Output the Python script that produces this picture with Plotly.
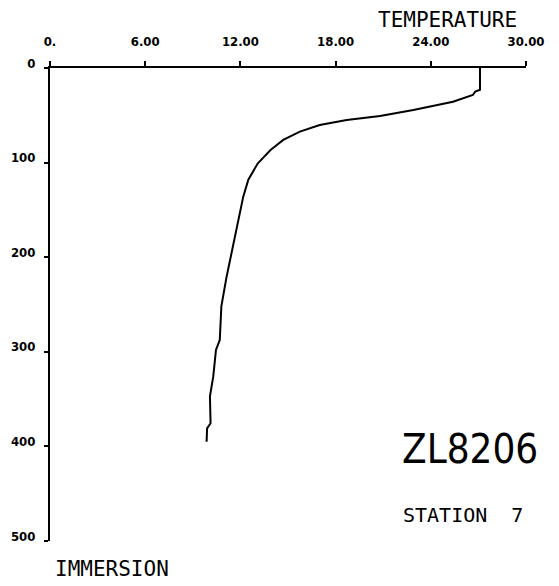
import plotly.graph_objects as go

# temperature profile
temperature = [27.1, 27.1, 26.8, 26.65, 25.4, 22.9, 20.8, 18.7, 17.0, 15.75, 14.7, 13.9,
               13.1, 12.5, 12.18, 11.87, 11.45, 11.13, 10.8, 10.7, 10.46, 10.29,
               10.08, 10.12, 9.9, 9.87]
depth = [0, 23, 25, 28.5, 35.6, 44.4, 50.7, 55, 60.3, 67.3, 76, 86.7,
         100.7, 118, 136, 160.7, 192, 220.6, 252, 287.5, 298, 326,
         347, 375.6, 381, 395]

x_ticks = [0, 6, 12, 18, 24, 30]
x_labels = ["0.", "6.00", "12.00", "18.00", "24.00", "30.00"]
y_ticks = [0, 100, 200, 300, 400, 500]
y_labels = ["0", "100", "200", "300", "400", "500"]


def cond(s):
    # DejaVu Sans Condensed, picked through font-stretch
    return '<span style="font-stretch:condensed">' + s + "</span>"


tick_font = dict(family="DejaVu Sans", size=13, color="black", weight="bold")
mono = dict(family="DejaVu Sans Mono", color="black")

fig = go.Figure()
fig.add_trace(go.Scatter(x=temperature, y=depth, mode="lines",
                         line=dict(color="black", width=2), showlegend=False))

# the page body has an 8px margin, so the figure is 8px smaller and the margins shifted
fig.update_layout(
    width=551, height=578,
    margin=dict(l=42, r=33, t=60, b=45, autoexpand=False),
    paper_bgcolor="white", plot_bgcolor="white",
    xaxis=dict(side="top", range=[0, 30], tickvals=x_ticks, ticktext=[cond(s) for s in x_labels],
               showline=True, linecolor="black", linewidth=2, showgrid=False, zeroline=False,
               ticks="outside", ticklen=5, tickcolor="black", tickwidth=1.5,
               tickfont=tick_font, ticklabelstandoff=10, automargin=False),
    yaxis=dict(range=[500, 0], tickvals=y_ticks, ticktext=[cond(s) for s in y_labels],
               showline=True, linecolor="black", linewidth=2, showgrid=False, zeroline=False,
               ticks="outside", ticklen=4, tickcolor="black", tickwidth=1.5,
               tickfont=tick_font, ticklabelstandoff=6, ticklabelshift=5, automargin=False),
)

# texts placed by window pixel centre
texts = [
    ("TEMPERATURE", 447, 20, dict(size=21, **mono)),
    ("IMMERSION", 112, 569, dict(size=21, **mono)),
    (cond("ZL8206"), 470, 449, dict(family="DejaVu Sans", size=40, color="black")),
    ("STATION  7", 463, 515, dict(size=20, **mono)),
]
for t, px_x, px_y, f in texts:
    fig.add_annotation(text=t, xref="paper", yref="paper",
                       x=(px_x - 50) / 476, y=1 - (px_y - 68) / 473,
                       xanchor="center", yanchor="middle", showarrow=False, font=f)

fig.write_html("out.html")
